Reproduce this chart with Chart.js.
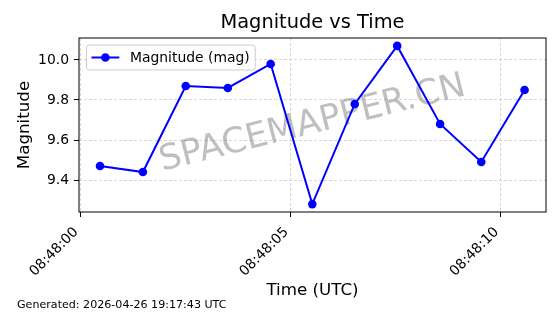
<!DOCTYPE html>
<html>
<head>
<meta charset="utf-8">
<script src="https://cdn.jsdelivr.net/npm/chart.js@4.4.1/dist/chart.umd.min.js"></script>
<style>
  html, body { margin: 0; padding: 0; background: #fff; }
</style>
</head>
<body>
<canvas id="magChart" width="560" height="314"></canvas>
<script>
// seconds after 08:48:00 UTC
const seconds = [0.47, 1.49, 2.51, 3.51, 4.53, 5.52, 6.53, 7.54, 8.56, 9.54, 10.57];
const magnitudes = [9.47, 9.44, 9.87, 9.86, 9.98, 9.28, 9.78, 10.07, 9.68, 9.49, 9.85];
const xTickSeconds = [0, 5, 10];
const yTickValues = [9.4, 9.6, 9.8, 10.0];
const timePrefix = "08:48:";
const seriesLabel = "Magnitude (mag)";
const chartTitle = "Magnitude vs Time";
const footerText = "Generated: 2026-04-26 19:17:43 UTC";
const watermarkText = "SPACEMAPPER.CN";

const FONT = "DejaVu Sans";
Chart.defaults.font.family = FONT;
Chart.defaults.color = "#000";

const decorPlugin = {
  id: "decor",
  beforeDatasetsDraw(chart) {
    const { ctx, chartArea: a } = chart;
    // watermark, centred on the axes
    ctx.save();
    ctx.translate((a.left + a.right) / 2, (a.top + a.bottom) / 2 - 1);
    ctx.rotate(-14 * Math.PI / 180);
    ctx.font = "35px " + FONT;
    ctx.fillStyle = "rgba(128,128,128,0.5)";
    ctx.textAlign = "center";
    ctx.textBaseline = "middle";
    ctx.fillText(watermarkText, 0, 0);
    ctx.restore();
  },
  afterDatasetsDraw(chart) {
    const { ctx, chartArea: a } = chart;
    const ds = chart.data.datasets[0];
    // legend box, top left inside the axes
    ctx.save();
    ctx.font = "13.9px " + FONT;
    const bx = a.left + 7.5, by = a.top + 7;
    const lineStart = bx + 5, lineEnd = lineStart + 27.8;
    const textX = lineEnd + 10.7;
    const bw = textX + ctx.measureText(ds.label).width + 5.5 - bx;
    const bh = 25;
    ctx.beginPath();
    ctx.roundRect(bx, by, bw, bh, 2.5);
    ctx.fillStyle = "rgba(255,255,255,0.8)";
    ctx.fill();
    ctx.strokeStyle = "#cccccc";
    ctx.lineWidth = 1;
    ctx.stroke();
    const cy = by + bh / 2;
    ctx.beginPath();
    ctx.moveTo(lineStart, cy);
    ctx.lineTo(lineEnd, cy);
    ctx.strokeStyle = ds.borderColor;
    ctx.lineWidth = ds.borderWidth;
    ctx.stroke();
    ctx.beginPath();
    ctx.arc((lineStart + lineEnd) / 2, cy, ds.pointRadius, 0, Math.PI * 2);
    ctx.fillStyle = ds.backgroundColor;
    ctx.fill();
    ctx.fillStyle = "#000";
    ctx.textBaseline = "middle";
    ctx.fillText(ds.label, textX, cy + 0.5);
    ctx.restore();
  },
  afterDraw(chart) {
    const { ctx, chartArea: a } = chart;
    ctx.save();
    // axes frame
    ctx.strokeStyle = "#000";
    ctx.lineWidth = 1;
    ctx.strokeRect(a.left, a.top, a.right - a.left, a.bottom - a.top);
    // title
    ctx.fillStyle = "#000";
    ctx.font = "19.4px " + FONT;
    ctx.textAlign = "center";
    ctx.textBaseline = "middle";
    ctx.fillText(chartTitle, (a.left + a.right) / 2, 23);
    // footer
    ctx.font = "11.1px " + FONT;
    ctx.textAlign = "left";
    ctx.fillText(footerText, 17, 305);
    ctx.restore();
  }
};

const gridOpts = {
  color: "#cccccc",
  lineWidth: 0.8,
  drawTicks: true,
  tickLength: 5,
  tickColor: "#000",
  tickWidth: 1,
  tickBorderDash: []
};

new Chart(document.getElementById("magChart"), {
  type: "line",
  data: {
    datasets: [{
      label: seriesLabel,
      data: seconds.map((s, i) => ({ x: s, y: magnitudes[i] })),
      borderColor: "#0000ff",
      backgroundColor: "#0000ff",
      borderWidth: 2,
      pointRadius: 4.3,
      pointHoverRadius: 4.3,
      pointBorderWidth: 0,
      tension: 0
    }]
  },
  options: {
    responsive: false,
    animation: false,
    layout: { padding: { top: 38, right: 14, bottom: 0, left: 0 } },
    plugins: {
      legend: { display: false },
      title: { display: false },
      tooltip: { enabled: false }
    },
    scales: {
      x: {
        type: "linear",
        min: -0.03,
        max: 11.08,
        afterBuildTicks: s => { s.ticks = xTickSeconds.map(v => ({ value: v })); },
        afterFit: s => { s.height = 102; },
        ticks: {
          autoSkip: false,
          minRotation: 45,
          maxRotation: 45,
          padding: 7,
          labelOffset: -4,
          font: { size: 13.9 },
          callback: v => timePrefix + String(v).padStart(2, "0")
        },
        grid: gridOpts,
        border: { display: false, dash: [3, 2] },
        title: {
          display: true,
          text: "Time (UTC)",
          font: { size: 16.7 },
          padding: { top: 0, bottom: 13 }
        }
      },
      y: {
        min: 9.2405,
        max: 10.1095,
        afterBuildTicks: s => { s.ticks = yTickValues.map(v => ({ value: v })); },
        afterFit: s => { s.width = 79; },
        ticks: {
          autoSkip: false,
          padding: 5,
          font: { size: 13.9 },
          callback: v => v.toFixed(1)
        },
        grid: gridOpts,
        border: { display: false, dash: [3, 2] },
        title: {
          display: true,
          text: "Magnitude",
          font: { size: 16.7 },
          padding: { top: 14.5, bottom: 0 }
        }
      }
    }
  },
  plugins: [decorPlugin]
});
</script>
</body>
</html>
